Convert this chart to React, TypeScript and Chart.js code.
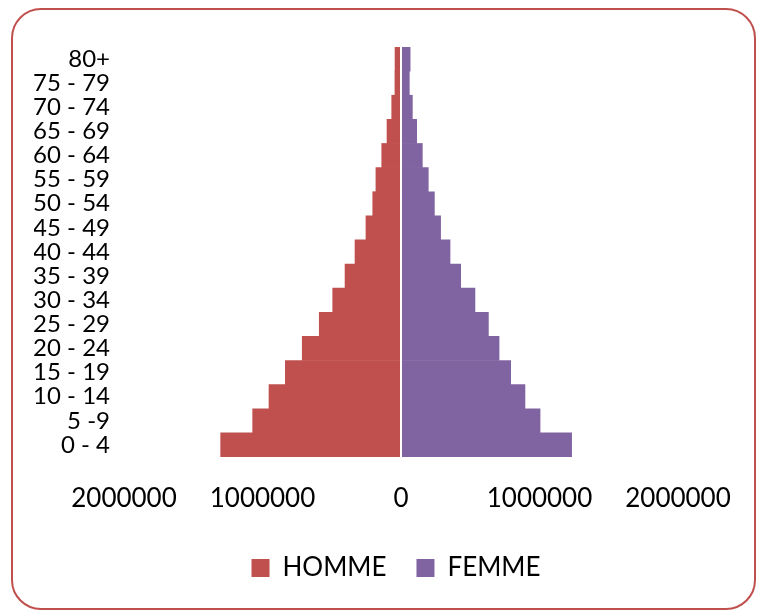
import React, { useEffect, useRef } from "react";
import { Chart, registerables } from "chart.js";

Chart.register(...registerables);

const ageGroups = [
  "0 - 4", "5 -9", "10 - 14", "15 - 19", "20 - 24", "25 - 29", "30 - 34", "35 - 39",
  "40 - 44", "45 - 49", "50 - 54", "55 - 59", "60 - 64", "65 - 69", "70 - 74", "75 - 79", "80+",
];

const homme = [
  1302000, 1071000, 953000, 835000, 713000, 590000, 493000, 404000,
  332000, 253000, 204000, 181000, 139000, 101000, 67000, 44000, 43000,
];

const femme = [
  1232000, 1004000, 895000, 792000, 708000, 631000, 534000, 431000,
  354000, 286000, 241000, 197000, 154000, 113000, 82000, 60000, 66000,
];

const xTicks = [-2000000, -1000000, 0, 1000000, 2000000];

const seriesNames = ["HOMME", "FEMME"];
const seriesColors = ["#C0504D", "#8064A2"];

const FONT = "Lato, 'Open Sans', sans-serif";

const zeroLine = {
  id: "zeroLine",
  afterDatasetsDraw(chart: any) {
    const { ctx, chartArea, scales } = chart;
    const x = scales.x.getPixelForValue(0);
    ctx.save();
    ctx.strokeStyle = "#ffffff";
    ctx.lineWidth = 2;
    ctx.beginPath();
    ctx.moveTo(x, chartArea.top);
    ctx.lineTo(x, chartArea.bottom);
    ctx.stroke();
    ctx.restore();
  },
};

export default function App() {
  const ref = useRef<HTMLCanvasElement | null>(null);

  useEffect(() => {
    if (!ref.current) return;
    const chart = new Chart(ref.current, {
      type: "bar",
      data: {
        labels: ageGroups,
        datasets: [
          {
            label: seriesNames[0],
            data: homme.map((v) => -v),
            backgroundColor: seriesColors[0],
            borderWidth: 0,
            barPercentage: 1,
            categoryPercentage: 1,
          },
          {
            label: seriesNames[1],
            data: femme,
            backgroundColor: seriesColors[1],
            borderWidth: 0,
            barPercentage: 1,
            categoryPercentage: 1,
          },
        ],
      },
      options: {
        indexAxis: "y",
        responsive: false,
        animation: false,
        layout: { padding: { left: 34, top: 47, right: 0, bottom: 21 } },
        scales: {
          x: {
            stacked: true,
            min: xTicks[0],
            max: xTicks[xTicks.length - 1],
            grid: { display: false, drawTicks: false },
            border: { display: false },
            afterBuildTicks: (scale: any) => {
              scale.ticks = xTicks.map((v) => ({ value: v }));
            },
            afterFit: (scale: any) => {
              scale.height = 68;
            },
            ticks: {
              color: "#000",
              font: { family: FONT, size: 26 },
              padding: 26,
              maxRotation: 0,
              autoSkip: false,
              callback: (v: any) => String(Math.abs(Number(v))),
            },
          },
          y: {
            stacked: true,
            reverse: true,
            grid: { display: false, drawTicks: false },
            border: { display: false },
            afterFit: (scale: any) => {
              scale.width = 90;
            },
            ticks: {
              color: "#000",
              font: { family: FONT, size: 24 },
              padding: 14,
              autoSkip: false,
            },
          },
          yRight: {
            type: "linear",
            axis: "y",
            position: "right",
            display: true,
            grid: { display: false, drawTicks: false },
            border: { display: false },
            ticks: { display: false },
            afterFit: (scale: any) => {
              scale.width = 80;
            },
          },
        },
        plugins: {
          legend: {
            position: "bottom",
            labels: {
              color: "#000",
              font: { family: FONT, size: 26 },
              boxWidth: 18,
              boxHeight: 18,
              padding: 30,
            },
          },
          tooltip: { enabled: false },
          title: { display: false },
        },
      },
      plugins: [zeroLine],
    });
    return () => chart.destroy();
  }, []);

  return (
    <div style={{ position: "fixed", left: 0, top: 0, width: 758, height: 612, background: "#fff" }}>
      <div
        style={{
          position: "absolute",
          left: 11,
          top: 8,
          width: 745,
          height: 602,
          border: "2px solid #C0504D",
          borderRadius: 30,
          boxSizing: "border-box",
        }}
      />
      <canvas
        ref={ref}
        width={758}
        height={612}
        style={{ position: "absolute", left: 0, top: 0, width: 758, height: 612 }}
      />
    </div>
  );
}
